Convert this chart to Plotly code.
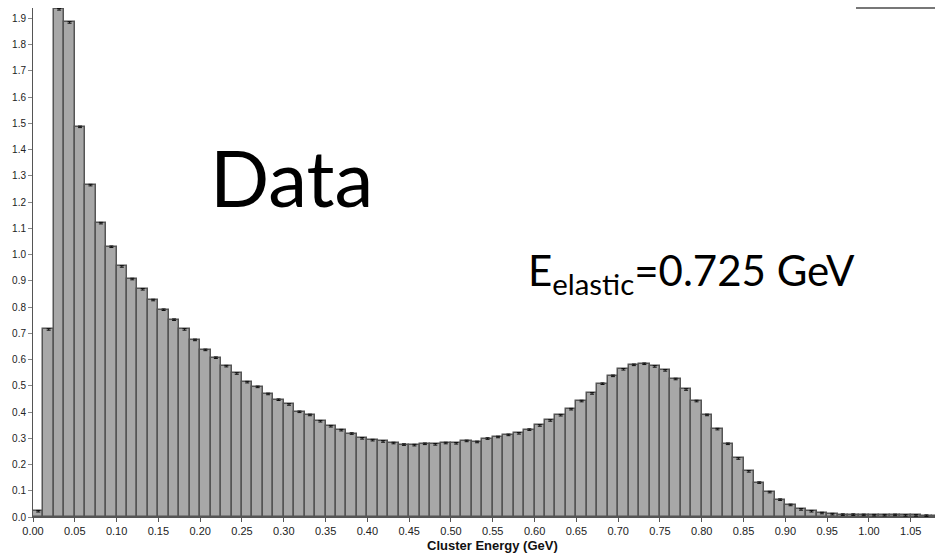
import plotly.graph_objects as go

bin_width = 0.0125
counts = [
    0.022, 0.715, 1.935, 1.885, 1.487, 1.265, 1.120, 1.030, 0.955, 0.907,
    0.868, 0.827, 0.790, 0.752, 0.715, 0.675, 0.637, 0.607, 0.575, 0.547,
    0.514, 0.496, 0.469, 0.447, 0.429, 0.401, 0.389, 0.365, 0.346, 0.331,
    0.318, 0.300, 0.293, 0.288, 0.282, 0.276, 0.274, 0.279, 0.277, 0.282,
    0.281, 0.290, 0.286, 0.299, 0.305, 0.313, 0.319, 0.333, 0.349, 0.368,
    0.388, 0.411, 0.442, 0.471, 0.508, 0.538, 0.563, 0.580, 0.584, 0.574,
    0.559, 0.526, 0.486, 0.442, 0.389, 0.335, 0.279, 0.223, 0.174, 0.131,
    0.095, 0.066, 0.046, 0.029, 0.022, 0.015, 0.011, 0.009, 0.009, 0.008,
    0.007, 0.007, 0.008, 0.006, 0.006, 0.005, 0.004,
]
errors = [0.003] * len(counts)
centers = [(i + 0.5) * bin_width for i in range(len(counts))]

x_ticks = [round(0.05 * i, 2) for i in range(22)]
x_tick_text = [f"{v:.2f}" for v in x_ticks]
y_ticks = [round(0.1 * i, 1) for i in range(20)]
y_tick_text = [f"{v:.1f}" for v in y_ticks]

W, H = 935, 554
ML, MR, MT, MB = 33, 0, 8, 37
PW, PH = W - ML - MR, H - MT - MB

def px(xp):
    return (xp - ML) / PW

def py(yp):
    return (H - MB - yp) / PH

fig = go.Figure()
fig.add_trace(go.Bar(
    x=centers, y=counts, width=bin_width,
    marker=dict(color="#a8a8a8", line=dict(color="#555555", width=1.5)),
    error_y=dict(type="data", array=errors, color="#111111", thickness=1, width=2),
    showlegend=False,
))

fig.update_layout(
    width=W, height=H,
    margin=dict(l=ML, r=MR, t=MT, b=MB, pad=0),
    paper_bgcolor="white", plot_bgcolor="white",
    bargap=0,
    font=dict(family="Liberation Sans, Arial, sans-serif", size=11, color="#222222"),
    xaxis=dict(
        range=[0, 1.079], tickmode="array", tickvals=x_ticks, ticktext=x_tick_text,
        ticks="outside", ticklen=4, tickcolor="#555555", showgrid=False, zeroline=False,
        showline=True, linecolor="#555555", linewidth=1,
        tickfont=dict(size=11, color="#222222"),
    ),
    yaxis=dict(
        range=[0, 1.94], tickmode="array", tickvals=y_ticks, ticktext=y_tick_text,
        ticks="outside", ticklen=4, tickcolor="#888888", showgrid=False, zeroline=False,
        showline=True, linecolor="#555555", linewidth=1,
        tickfont=dict(size=10, color="#222222"),
    ),
)

fig.add_annotation(
    text="<b>Cluster Energy (GeV)</b>", xref="paper", yref="paper",
    x=px(492), y=py(554), xanchor="center", yanchor="bottom", showarrow=False,
    borderpad=0,
    font=dict(family="Liberation Sans, Arial, sans-serif", size=13, color="#111111"),
)
fig.add_annotation(
    text="Data", xref="paper", yref="paper",
    x=px(208), y=py(177), xanchor="left", yanchor="middle", showarrow=False,
    font=dict(family="Lato, Open Sans, sans-serif", size=78, color="black"),
)
fig.add_annotation(
    text="E<sub>elastic</sub>=0.725 GeV", xref="paper", yref="paper",
    x=px(526), y=py(273), xanchor="left", yanchor="middle", showarrow=False,
    font=dict(family="Lato, Open Sans, sans-serif", size=42, color="black"),
)
fig.add_shape(
    type="line", xref="paper", yref="paper",
    x0=px(856), x1=1, y0=1, y1=1,
    line=dict(color="#777777", width=2),
)

fig.write_html("out.html")
